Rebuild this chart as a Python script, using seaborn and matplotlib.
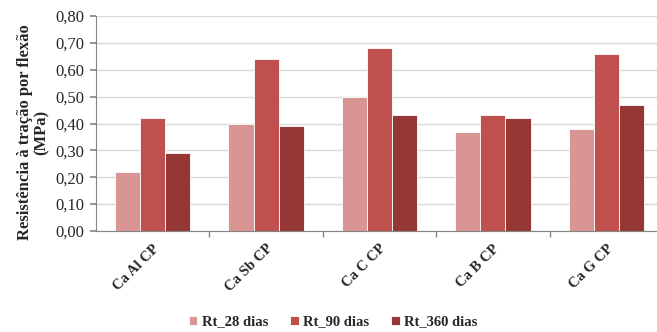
import matplotlib
matplotlib.use("Agg")
import matplotlib.pyplot as plt
import seaborn as sns
import pandas as pd
from matplotlib.ticker import FixedLocator, FuncFormatter

categories = ["Ca Al CP", "Ca Sb CP", "Ca C CP", "Ca B CP", "Ca G CP"]
series = ["Rt_28 dias", "Rt_90 dias", "Rt_360 dias"]
rt_28 = [0.22, 0.40, 0.50, 0.37, 0.38]
rt_90 = [0.42, 0.64, 0.68, 0.43, 0.66]
rt_360 = [0.29, 0.39, 0.43, 0.42, 0.47]
colors = ["#D99594", "#C0504D", "#953735"]
yticks = [0.0, 0.1, 0.2, 0.3, 0.4, 0.5, 0.6, 0.7, 0.8]

rows = []
for name, vals in zip(series, [rt_28, rt_90, rt_360]):
    for c, v in zip(categories, vals):
        rows.append({"cat": c, "serie": name, "val": v})
df = pd.DataFrame(rows)

sns.set_theme(style="white")
plt.rcParams["font.family"] = ["Liberation Serif", "DejaVu Serif"]

fig = plt.figure(figsize=(6.57, 3.32), dpi=100)
ax = fig.add_axes([96/657, 1-231/332, 567/657, 215/332])

sns.barplot(data=df, x="cat", y="val", hue="serie", palette=colors,
            width=0.665, ax=ax, edgecolor="white", linewidth=0.6,
            saturation=1, legend=True)

ax.set_xlim(-0.5, len(categories) - 0.5)
ax.set_ylim(0, 0.8)
ax.yaxis.set_major_locator(FixedLocator(yticks))
ax.yaxis.set_major_formatter(FuncFormatter(lambda v, p: f"{v:.2f}".replace(".", ",")))
ax.grid(axis="y", color="#D9D9D9", linewidth=1)
ax.set_axisbelow(True)

for s in ["top", "right"]:
    ax.spines[s].set_visible(False)
for s in ["left", "bottom"]:
    ax.spines[s].set_color("#868686")
    ax.spines[s].set_linewidth(0.8)

ax.tick_params(axis="y", which="major", left=True, length=4.5, color="#868686",
               labelsize=12, pad=4)
ax.set_xticks([i - 0.5 for i in range(1, len(categories))], minor=True)
ax.tick_params(axis="x", which="minor", bottom=True, length=4, color="#868686")
ax.tick_params(axis="x", which="major", bottom=False, labelsize=10.5, pad=2)
ax.set_xticks(range(len(categories)))
ax.set_xticklabels(categories, rotation=45, ha="right", va="top",
                   rotation_mode="anchor", fontweight="bold")

ax.set_xlabel("")
ax.set_ylabel("Resistência à tração por flexão\n(MPa)", fontsize=12,
              fontweight="bold", labelpad=5, linespacing=1.05)
ax.yaxis.set_label_coords(-46/567, 0.46)

handles, labels = ax.get_legend_handles_labels()
ax.legend_.remove()
fig.legend(handles, labels, loc="center", bbox_to_anchor=(333/657, 1-322/332),
           ncol=3, frameon=False, prop={"weight": "bold", "size": 10.5},
           handlelength=0.6, handleheight=0.6, handletextpad=0.3,
           columnspacing=1.5, borderaxespad=0)

fig.savefig("out.png", dpi=100)
